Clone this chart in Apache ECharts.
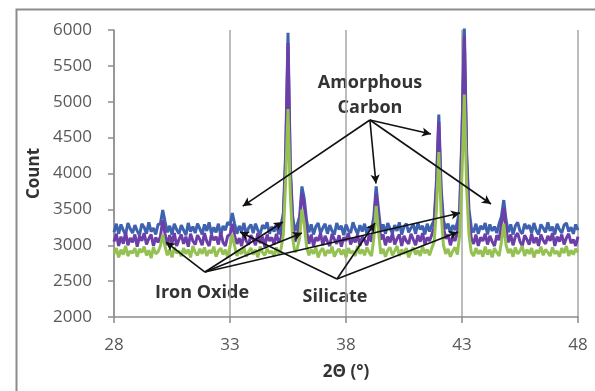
<!DOCTYPE html>
<html>
<head>
<meta charset="utf-8">
<script src="https://cdn.jsdelivr.net/npm/echarts@6/dist/echarts.min.js"></script>
<style>
html,body{margin:0;padding:0;background:#fff;}
#c{width:595px;height:391px;}
</style>
</head>
<body>
<div id="c"></div>
<script>
// 2Θ sampling grid (start and step of the scan)
const xStart = 28, xStep = 0.1;
const xTicks = [28, 33, 38, 43, 48];

// Counts per 0.1° step (28.0 .. 48.0)
const blueCounts = [
3180,3300,3160,3290,3210,3150,3310,3230,3170,3280,
3200,3140,3300,3250,3160,3320,3190,3240,3150,3290,
3300,3490,3330,3180,3270,3150,3300,3220,3160,3280,
3210,3140,3310,3190,3260,3170,3300,3230,3150,3290,
3200,3320,3160,3250,3180,3300,3140,3270,3210,3320,
3280,3450,3300,3160,3270,3190,3310,3150,3240,3290,
3170,3300,3210,3150,3280,3230,3320,3160,3260,3190,
3300,3150,3280,3450,4300,5960,4100,3400,3200,3290,
3400,3820,3650,3350,3180,3290,3150,3260,3310,3170,
3240,3300,3160,3280,3200,3150,3310,3220,3270,3140,
3290,3210,3170,3320,3230,3160,3280,3190,3300,3150,
3260,3210,3400,3820,3500,3200,3290,3160,3310,3230,
3170,3280,3200,3320,3150,3260,3300,3180,3240,3290,
3160,3310,3220,3270,3150,3300,3190,3280,3350,3900,
4820,3800,3350,3230,3300,3170,3280,3210,3320,3500,
4600,6070,4300,3500,3250,3180,3300,3160,3270,3220,
3310,3150,3290,3200,3260,3170,3300,3400,3630,3350,
3180,3290,3150,3270,3320,3200,3160,3300,3230,3280,
3170,3310,3210,3150,3290,3240,3180,3320,3200,3260,
3150,3300,3220,3170,3280,3310,3190,3250,3160,3290,
3210];

const purpleCounts = [
3050,3160,2990,3120,3020,3180,3000,3100,3040,3150,
2980,3130,3060,3170,3010,3090,3150,2990,3110,3040,
3120,3350,3160,3000,3140,3030,3170,2990,3080,3150,
3020,3120,2980,3160,3060,3010,3140,3080,3000,3170,
3050,2990,3150,3070,3120,3010,3180,3040,2990,3130,
3150,3300,3130,3020,3100,2990,3160,3060,3010,3140,
3080,3000,3170,3030,3120,2980,3150,3060,3110,3010,
3160,3040,3100,3350,4200,5820,4000,3300,3050,3140,
3300,3720,3550,3200,3020,3150,2990,3110,3060,3170,
3000,3130,3050,2990,3160,3080,3020,3140,2980,3110,
3060,3170,3010,3100,3040,3150,2990,3120,3070,3000,
3140,3050,3280,3720,3400,3080,3150,3000,3120,3040,
3170,3010,3090,3150,2990,3130,3060,3020,3160,3080,
3000,3140,3050,3170,3010,3110,3060,3150,3250,3800,
4720,3700,3250,3090,3150,3000,3120,3060,3170,3400,
4500,5920,4200,3380,3100,3020,3150,2990,3110,3060,
3160,3010,3130,3050,2990,3140,3070,3290,3520,3220,
3040,3150,3000,3120,3170,3050,2990,3140,3080,3010,
3160,3030,3110,2990,3150,3070,3020,3130,3060,3170,
2990,3120,3050,3150,3010,3100,3160,3030,3080,2990,
3120];

const greenCounts = [
2880,2960,2830,2940,2870,2990,2850,2920,2890,2960,
2840,2950,2900,2980,2860,2930,2820,2970,2880,2910,
2990,3150,2980,2860,2940,2830,2970,2890,2920,2850,
2960,2880,2940,2830,2990,2900,2860,2950,2880,2970,
2850,2930,2890,2980,2840,2920,2960,2870,2940,2830,
2980,3150,2990,2850,2930,2880,2970,2840,2910,2960,
2870,2940,2830,2980,2900,2860,2950,2890,2920,2840,
2970,2880,2950,3150,3900,4900,3700,3100,2900,2960,
3100,3500,3300,2980,2860,2940,2880,2970,2830,2920,
2960,2850,2930,2890,2980,2840,2910,2950,2870,2940,
2830,2960,2890,2920,2850,2990,2880,2940,2860,2970,
2900,2850,3100,3550,3200,2880,2950,2840,2930,2970,
2860,2920,2990,2850,2940,2880,2960,2830,2910,2970,
2870,2930,2850,2980,2890,2940,2860,2960,3050,3500,
4300,3450,3000,2880,2950,2840,2920,2970,2870,3150,
4000,5100,3800,3150,2900,2850,2960,2880,2930,2840,
2980,2870,2940,2830,2960,2900,2850,3050,3300,3000,
2890,2950,2840,2970,2880,2920,2990,2850,2940,2880,
2960,2830,2930,2890,2980,2860,2940,2900,2850,2970,
2880,2920,2840,2960,2890,2990,2850,2930,2870,2950,
2900];

// Annotation arrows in data units: [from, to]
const carbonOrigin = [39.03, 4746];
const carbonTargets = [[33.55, 3545], [39.29, 3860], [41.66, 4550], [44.25, 3575]];
const ironOrigin = [31.92, 2627];
const ironTargets = [[30.24, 3045], [35.28, 3324], [36.10, 3171], [42.91, 3449]];
const silicateOrigin = [37.61, 2530];
const silicateTargets = [[33.43, 3185], [39.25, 3310], [42.83, 3185]];

function toPairs(vals){ return vals.map((v,i)=>[+(xStart + i*xStep).toFixed(1), v]); }
function arrows(o, ts){ return ts.map(t=>[{coord:o},{coord:t}]); }

const chart = echarts.init(document.getElementById('c'), null, {renderer:'canvas'});
const axisGray = '#8c8c8c';
const labelFont = {fontFamily:'Open Sans', fontSize:17, color:'#595959'};

chart.setOption({
  animation:false,
  backgroundColor:'#fff',
  grid:{left:114, right:17, top:30, bottom:74, containLabel:false},
  xAxis:{
    type:'value', min:28, max:48, interval:5,
    name:'2Θ (°)', nameLocation:'middle', nameGap:47,
    nameTextStyle:{fontFamily:'Open Sans', fontWeight:'bold', fontSize:17, color:'#333'},
    axisLine:{show:true, lineStyle:{color:axisGray, width:1.5}},
    axisTick:{show:true, inside:false, length:6, lineStyle:{color:axisGray, width:1.5}},
    axisLabel:Object.assign({margin:20, formatter:v=>xTicks.includes(v)?String(v):''}, labelFont),
    splitLine:{show:true, lineStyle:{color:'#a6a6a6', width:1.5}}
  },
  yAxis:{
    type:'value', min:2000, max:6000, interval:500,
    name:'Count', nameLocation:'middle', nameGap:54, nameRotate:90,
    nameTextStyle:{fontFamily:'Open Sans', fontWeight:'bold', fontSize:17, color:'#333'},
    axisLine:{show:true, lineStyle:{color:axisGray, width:1.5}},
    axisTick:{show:true, inside:false, length:6, lineStyle:{color:axisGray, width:1.5}},
    axisLabel:Object.assign({margin:22, formatter:v=>String(v)}, labelFont),
    splitLine:{show:false}
  },
  series:[
    {type:'line', data:toPairs(blueCounts), showSymbol:false, symbol:'none',
     lineStyle:{color:'#3f62b0', width:3, join:'bevel'}, z:2},
    {type:'line', data:toPairs(purpleCounts), showSymbol:false, symbol:'none',
     lineStyle:{color:'#6c3ea8', width:3, join:'bevel'}, z:3},
    {type:'line', data:toPairs(greenCounts), showSymbol:false, symbol:'none',
     lineStyle:{color:'#94c152', width:3, join:'bevel'}, z:4,
     markLine:{
       silent:true, symbol:['none','arrow'], symbolSize:[7,9],
       label:{show:false},
       lineStyle:{color:'#111', width:1.6, type:'solid'},
       emphasis:{disabled:true},
       data:[].concat(arrows(carbonOrigin, carbonTargets), arrows(ironOrigin, ironTargets), arrows(silicateOrigin, silicateTargets))
     }}
  ],
  graphic:[
    {type:'rect', left:14, top:7, silent:true, shape:{width:600, height:420},
     style:{fill:'none', stroke:'#8c8c8c', lineWidth:2}, z:-1},
    {type:'text', x:370, y:83, silent:true, style:{text:'Amorphous', font:'bold 18px "Open Sans"', fill:'#333', align:'center', verticalAlign:'middle'}},
    {type:'text', x:370, y:108, silent:true, style:{text:'Carbon', font:'bold 18px "Open Sans"', fill:'#333', align:'center', verticalAlign:'middle'}},
    {type:'text', x:202, y:293, silent:true, style:{text:'Iron Oxide', font:'bold 18px "Open Sans"', fill:'#333', align:'center', verticalAlign:'middle'}},
    {type:'text', x:335, y:297, silent:true, style:{text:'Silicate', font:'bold 18px "Open Sans"', fill:'#333', align:'center', verticalAlign:'middle'}}
  ]
});
</script>
</body>
</html>
